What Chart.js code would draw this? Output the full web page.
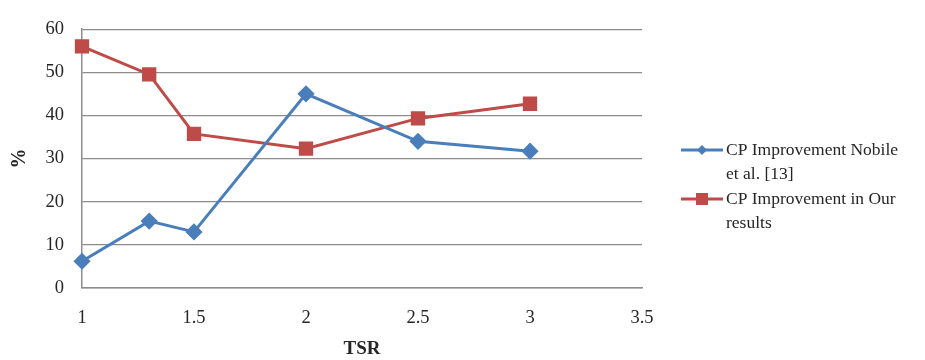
<!DOCTYPE html>
<html>
<head>
<meta charset="utf-8">
<script src="https://cdn.jsdelivr.net/npm/chart.js"></script>
<style>
  html,body{margin:0;padding:0;background:#fff;}
  #wrap{width:925px;height:360px;position:relative;}
</style>
</head>
<body>
<div id="wrap"><canvas id="c" width="925" height="360"></canvas></div>
<script>
// data
const tsr = [1, 1.3, 1.5, 2, 2.5, 3];
const nobile = [6.2, 15.5, 13, 45, 34, 31.7];
const ours = [56, 49.5, 35.7, 32.3, 39.3, 42.7];
const legendNobile = ['CP Improvement Nobile', 'et al. [13]'];
const legendOurs = ['CP Improvement in Our', 'results'];

const blue = '#4A7EBB';
const red = '#BE4B48';
const serif = '"Liberation Serif", "DejaVu Serif", serif';
const grid = '#8c8c8c';

const toPts = (xs, ys) => xs.map((x, i) => ({x: x, y: ys[i]}));

// legend drawn by hand on the right, two lines per entry
const sideLegend = {
  id: 'sideLegend',
  afterDraw(chart){
    const ctx = chart.ctx;
    const items = [
      {lines: legendNobile, color: blue, style: 'diamond', y: 150},
      {lines: legendOurs, color: red, style: 'square', y: 199}
    ];
    ctx.save();
    ctx.font = '17.5px ' + serif;
    ctx.textBaseline = 'middle';
    items.forEach(it => {
      ctx.strokeStyle = it.color; ctx.fillStyle = it.color; ctx.lineWidth = 3;
      ctx.beginPath(); ctx.moveTo(681, it.y); ctx.lineTo(723, it.y); ctx.stroke();
      if(it.style === 'diamond'){
        ctx.beginPath(); ctx.moveTo(702, it.y-5); ctx.lineTo(707, it.y); ctx.lineTo(702, it.y+5); ctx.lineTo(697, it.y); ctx.closePath(); ctx.fill();
      } else {
        ctx.fillRect(696, it.y-6, 12, 12);
      }
      ctx.fillStyle = '#262626';
      it.lines.forEach((t, k) => ctx.fillText(t, 726, it.y + k*24));
    });
    ctx.restore();
  }
};

new Chart(document.getElementById('c').getContext('2d'), {
  type: 'line',
  data: {
    datasets: [
      {label: legendNobile.join(' '), data: toPts(tsr, nobile), borderColor: blue, backgroundColor: blue,
       borderWidth: 3, pointStyle: 'rectRot', pointRadius: 6.5, pointHoverRadius: 6.5, tension: 0, clip: false},
      {label: legendOurs.join(' '), data: toPts(tsr, ours), borderColor: red, backgroundColor: red,
       borderWidth: 3, pointStyle: 'rect', pointRadius: 8, pointHoverRadius: 8, tension: 0, clip: false}
    ]
  },
  options: {
    responsive: false,
    animation: false,
    layout: {padding: {left: 0, top: 23, right: 283, bottom: 0}},
    plugins: {legend: {display: false}, tooltip: {enabled: false}},
    scales: {
      x: {
        type: 'linear', min: 1, max: 3.5,
        afterFit: s => { s.height = 72; },
        ticks: {stepSize: 0.5, color: '#262626', font: {family: serif, size: 18.5}, padding: 19,
                callback: v => String(v)},
        grid: {display: false, drawTicks: false},
        border: {color: grid, width: 1.5},
        title: {display: true, text: 'TSR', color: '#262626', font: {family: serif, size: 19, weight: 'bold'}, padding: {top: 2, bottom: 0}}
      },
      y: {
        min: 0, max: 60,
        afterFit: s => { s.width = 82; },
        ticks: {stepSize: 10, color: '#262626', font: {family: serif, size: 18.5}, padding: 18},
        grid: {color: grid, lineWidth: 1.2, drawTicks: false},
        border: {color: grid, width: 1.5},
        title: {display: true, text: '%', color: '#262626', font: {family: serif, size: 20, weight: 'bold'}, padding: {top: 8, bottom: 0}}
      }
    }
  },
  plugins: [sideLegend]
});
</script>
</body>
</html>
